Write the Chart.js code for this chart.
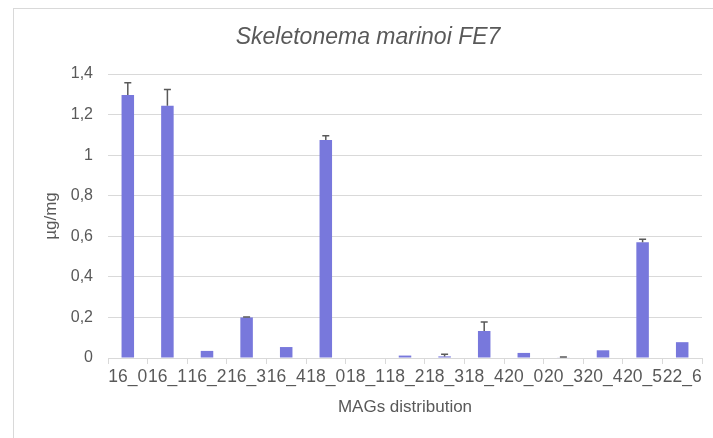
<!DOCTYPE html>
<html>
<head>
<meta charset="utf-8">
<script src="https://cdn.jsdelivr.net/npm/chart.js@4.4.1/dist/chart.umd.min.js"></script>
<style>
  html, body { margin: 0; padding: 0; background: #fff; }
  #wrap { position: relative; width: 713px; height: 438px; overflow: hidden; }
  #frame { position: absolute; left: 13px; top: 8px; width: 760px; height: 500px;
           border-left: 1px solid #d9d9d9; border-top: 1px solid #d9d9d9; }
  canvas { position: absolute; left: 0; top: 0; }
</style>
</head>
<body>
<div id="wrap">
  <div id="frame"></div>
  <canvas id="mags" width="713" height="438"></canvas>
</div>
<script>
// MAG categories and measured values (µg/mg) with upper error
var categories = ['16_0', '16_1', '16_2', '16_3', '16_4', '18_0', '18_1', '18_2',
                  '18_3', '18_4', '20_0', '20_3', '20_4', '20_5', '22_6'];
var values = [1.297, 1.244, 0.035, 0.2, 0.054, 1.075, 0, 0.012,
              0.008, 0.133, 0.025, 0.002, 0.038, 0.57, 0.078];
var errors = [0.06, 0.08, 0, 0.002, 0, 0.02, 0, 0,
              0.01, 0.045, 0, 0.003, 0, 0.016, 0];

var gray = '#595959';
var lineGray = '#d9d9d9';

// draw the + error bars on top of each bar
var errorBars = {
  id: 'errorBars',
  afterDatasetsDraw: function(chart) {
    var ctx = chart.ctx;
    var meta = chart.getDatasetMeta(0);
    var y = chart.scales.y;
    ctx.save();
    ctx.strokeStyle = gray;
    ctx.lineWidth = 1.5;
    meta.data.forEach(function(bar, i) {
      if (!errors[i]) return;
      var yTop = y.getPixelForValue(values[i] + errors[i]);
      var yBase = y.getPixelForValue(values[i]);
      ctx.beginPath();
      ctx.moveTo(bar.x, yBase);
      ctx.lineTo(bar.x, yTop);
      ctx.moveTo(bar.x - 3.5, yTop);
      ctx.lineTo(bar.x + 3.5, yTop);
      ctx.stroke();
    });
    ctx.restore();
  }
};

var ctx = document.getElementById('mags').getContext('2d');
var chart = new Chart(ctx, {
  type: 'bar',
  data: {
    labels: categories,
    datasets: [{
      data: values,
      backgroundColor: '#7878dc',
      borderWidth: 0,
      categoryPercentage: 0.8,
      barPercentage: 0.395
    }]
  },
  plugins: [errorBars],
  options: {
    responsive: false,
    animation: false,
    layout: { padding: { left: 34, right: 11, top: 0, bottom: 0 } },
    plugins: {
      legend: { display: false },
      tooltip: { enabled: false },
      title: {
        display: true,
        text: 'Skeletonema marinoi FE7',
        color: gray,
        font: { family: 'Liberation Sans', size: 23, style: 'italic', weight: 'normal', lineHeight: 1.2 },
        padding: { top: 24, bottom: 22.4 }
      }
    },
    scales: {
      x: {
        afterFit: function(scale) { scale.height = 80; },
        grid: {
          drawOnChartArea: false,
          drawTicks: true,
          tickLength: 6,
          color: lineGray
        },
        border: { display: true, color: lineGray, width: 1 },
        ticks: {
          autoSkip: false,
          maxRotation: 0,
          minRotation: 0,
          padding: 3,
          color: gray,
          font: { family: 'Liberation Sans', size: 17.5 }
        },
        title: {
          display: true,
          text: 'MAGs distribution',
          color: gray,
          font: { family: 'Liberation Sans', size: 17 },
          padding: { top: 0, bottom: 20 }
        }
      },
      y: {
        min: 0,
        max: 1.4,
        afterFit: function(scale) { scale.width = 74; },
        grid: { color: lineGray, lineWidth: 1, drawTicks: false },
        border: { display: false },
        ticks: {
          stepSize: 0.2,
          padding: 15,
          color: gray,
          font: { family: 'Liberation Sans', size: 16 },
          callback: function(v) {
            var r = Math.round(v * 10) / 10;
            return Number.isInteger(r) ? String(r) : r.toFixed(1).replace('.', ',');
          }
        },
        title: {
          display: true,
          text: 'µg/mg',
          color: gray,
          font: { family: 'Liberation Sans', size: 17 },
          padding: { top: 7, bottom: 0 }
        }
      }
    }
  }
});
</script>
</body>
</html>
